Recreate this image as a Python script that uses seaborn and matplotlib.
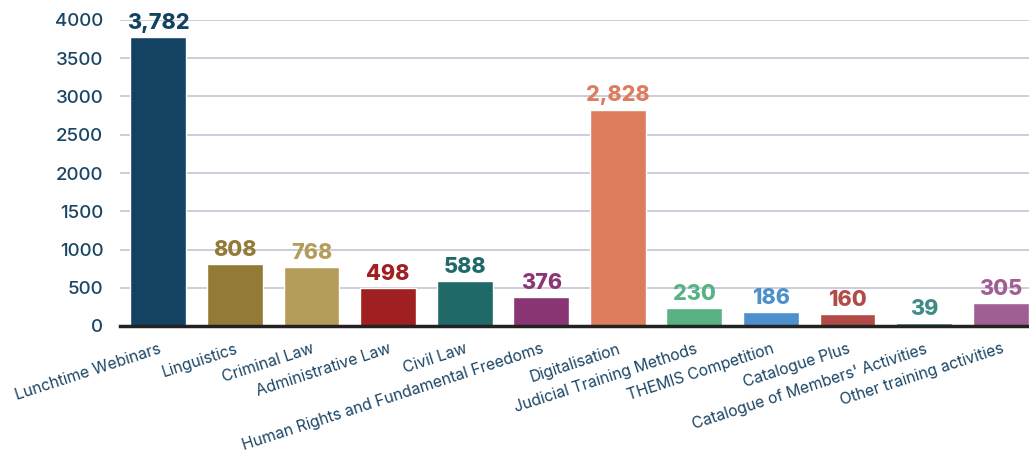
import matplotlib
matplotlib.use("Agg")
import matplotlib.pyplot as plt
import seaborn as sns
import pandas as pd

categories = ["Lunchtime Webinars", "Linguistics", "Criminal Law", "Administrative Law",
              "Civil Law", "Human Rights and Fundamental Freedoms", "Digitalisation",
              "Judicial Training Methods", "THEMIS Competition", "Catalogue Plus",
              "Catalogue of Members' Activities", "Other training activities"]
values = [3782, 808, 768, 498, 588, 376, 2828, 230, 186, 160, 39, 305]
colors = ["#134263", "#937B36", "#B49C5A", "#A01F21", "#1F6A68", "#8A3674",
          "#DD7D5E", "#59B184", "#4E90CC", "#B24B48", "#3F8C86", "#A05F92"]
yticks = [0, 500, 1000, 1500, 2000, 2500, 3000, 3500, 4000]

sns.set_theme(style="white")
plt.rcParams['font.family'] = ['Inter', 'DejaVu Sans']

W, H = 1029, 454
fig = plt.figure(figsize=(W / 100, H / 100), dpi=100)
ax = fig.add_axes([120 / W, 128 / H, (1039 - 120) / W, 306 / H])

df = pd.DataFrame({"cat": categories, "val": values})
sns.barplot(data=df, x="cat", y="val", hue="cat", palette=colors, legend=False,
            width=0.73, saturation=1, ax=ax, zorder=3)

ax.set_xlim(-0.5, len(categories) - 0.5)
ax.set_ylim(0, 4000)
ax.set_yticks(yticks)
ax.set_yticklabels([str(t) for t in yticks], fontsize=13.5, color="#1B4565",
                   fontweight="medium")
ax.set_xlabel("")
ax.set_ylabel("")
ax.yaxis.grid(True, color="#C9C8DA", linewidth=1.3, zorder=0)
ax.set_axisbelow(True)
ax.tick_params(axis="y", length=0, pad=12)
ax.tick_params(axis="x", length=0, pad=11)
for s in ["top", "right", "left"]:
    ax.spines[s].set_visible(False)
ax.spines["bottom"].set_color("#222222")
ax.spines["bottom"].set_linewidth(2.5)
ax.spines["bottom"].set_zorder(5)

ax.set_xticks(range(len(categories)))
ax.set_xticklabels(categories, rotation=18, ha="right", rotation_mode="anchor",
                   fontsize=11.3, color="#1B4565")

for i, (v, c) in enumerate(zip(values, colors)):
    ax.annotate(f"{v:,}", (i, v), xytext=(0, 3), textcoords="offset points",
                ha="center", va="bottom", fontsize=15.5, fontweight="heavy",
                color=c, clip_on=False, zorder=6)

fig.savefig("out.png", dpi=100)
